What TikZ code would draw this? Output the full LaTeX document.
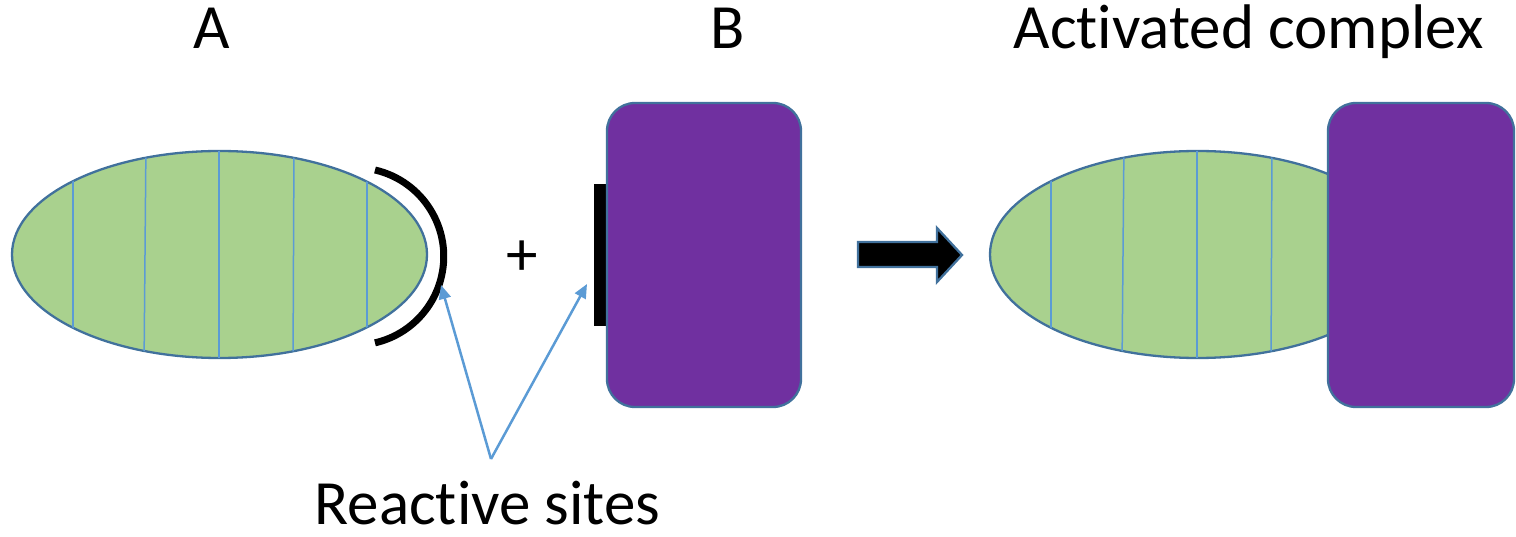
\documentclass[tikz,border=0pt]{standalone}
\usepackage{fontspec}
\setmainfont{Carlito}[Ligatures={NoCommon}]
\usetikzlibrary{arrows.meta,shapes.geometric}
\definecolor{cellgreen}{HTML}{A9D18E}
\definecolor{edgeblue}{HTML}{41719C}
\definecolor{lineblue}{HTML}{5B9BD5}
\definecolor{molpurple}{HTML}{7030A0}
\tikzset{
  lbl/.style={font=\fontsize{63}{70}\selectfont, inner sep=0pt, anchor=base},
  cell/.style={ellipse, fill=cellgreen, draw=edgeblue, line width=2.3pt, minimum width=415pt, minimum height=207pt, inner sep=0pt},
  stripe/.style={draw=lineblue, line width=1.5pt},
  molb/.style={fill=molpurple, draw=edgeblue, line width=2.3pt, rounded corners=28pt},
  pointer/.style={draw=lineblue, line width=2.5pt, -{Triangle[length=14pt, width=12pt]}},
  site/.style={line width=7pt, draw=black},
  blockarrow/.style={fill=black, draw=edgeblue, line width=2.3pt, line join=miter}
}
\begin{document}
\begin{tikzpicture}[x=1pt,y=-1pt]
\useasboundingbox (0,0) rectangle (1516,537);

% titles
\node[lbl] (tA) at (212,49) {A};
\node[lbl] (tB) at (728,49) {B};
\node[lbl] (tC) at (1248.5,49) {Activated complex};

% molecule A
\node[cell] (ellA) at (219.5,254.5) {};
\begin{scope}
  \clip (219.5,254.5) ellipse [x radius=207.5, y radius=103.5];
  \draw[stripe] (73,140) -- (73,370);
  \draw[stripe] (146,140) -- (144,370);
  \draw[stripe] (219,140) -- (219,370);
  \draw[stripe] (294,140) -- (293,370);
  \draw[stripe] (367,140) -- (367,370);
\end{scope}
\draw[site] (375,170) arc[start angle=-77, end angle=77, radius=88.7];

% plus
\node[font=\fontsize{63}{70}\selectfont, inner sep=0pt] (plus) at (522,258) {+};

% molecule B
\fill[black] (594,184) rectangle (607,326);
\draw[molb] (607,103) rectangle (801,407);

% pointers
\coordinate (junc) at (491,459);
\coordinate (tipA) at (441,285);
\coordinate (tipB) at (587,284);
\node[lbl] (rs) at (487.5,524) {Reactive sites};
\draw[pointer] (junc) -- (tipA);
\draw[pointer] (junc) -- (tipB);

% reaction arrow
\draw[blockarrow] (858,242) -- (937,242) -- (937,228) -- (962,255) -- (937,282) -- (937,267) -- (858,267) -- cycle;

% activated complex
\node[cell] (ellC) at (1197.5,254.5) {};
\begin{scope}
  \clip (1197.5,254.5) ellipse [x radius=207.5, y radius=103.5];
  \draw[stripe] (1051,140) -- (1051,370);
  \draw[stripe] (1124,140) -- (1122,370);
  \draw[stripe] (1197,140) -- (1197,370);
  \draw[stripe] (1272,140) -- (1271,370);
\end{scope}
\draw[molb] (1328,103) rectangle (1514,407);
\end{tikzpicture}
\end{document}
